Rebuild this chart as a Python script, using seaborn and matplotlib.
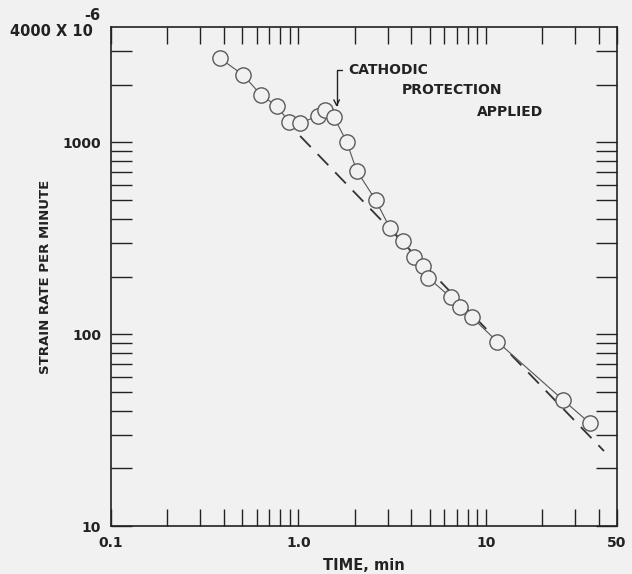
import matplotlib
matplotlib.use("Agg")
import matplotlib.pyplot as plt
from matplotlib.ticker import FixedLocator, NullFormatter, FixedFormatter
import seaborn as sns
import pandas as pd

# ---- data ----
time_min = [0.381, 0.508, 0.631, 0.765, 0.890, 1.018, 1.266, 1.384, 1.547,
            1.807, 2.044, 2.58, 3.076, 3.595, 4.146, 4.63, 4.92, 6.48,
            7.27, 8.39, 11.49, 25.8, 35.9]
strain_rate = [2747, 2247, 1768, 1549, 1283, 1259, 1374, 1477, 1353,
               1009, 712, 501, 357, 307, 254, 227, 197, 156,
               138, 123, 91.5, 45.4, 34.3]
trend_x = [1.02, 42.6]
trend_y = [1081, 24.6]

x_major = [0.1, 1.0, 10, 50]
x_major_labels = ["0.1", "1.0", "10", "50"]
x_minor = [0.2, 0.3, 0.4, 0.5, 0.6, 0.7, 0.8, 0.9,
           2, 3, 4, 5, 6, 7, 8, 9, 20, 30, 40]
y_major = [10, 100, 1000]
y_major_labels = ["10", "100", "1000"]
y_minor = [20, 30, 40, 50, 60, 70, 80, 90,
           200, 300, 400, 500, 600, 700, 800, 900, 2000, 3000]

bg = "#f1f1f1"
ink = "#222222"

sns.set_style("ticks")
plt.rcParams["font.family"] = ["DejaVu Sans"]
plt.rcParams["font.weight"] = "bold"

fig = plt.figure(figsize=(6.32, 5.74), dpi=100, facecolor=bg)
ax = fig.add_axes([111 / 632, 48 / 574, 506 / 632, 499 / 574])
ax.set_facecolor(bg)
ax.set_xscale("log")
ax.set_yscale("log")

df = pd.DataFrame({"t": time_min, "s": strain_rate})
dtrend = pd.DataFrame({"t": trend_x, "s": trend_y})

sns.lineplot(data=dtrend, x="t", y="s", ax=ax, color="#333333",
             linewidth=1.3, dashes=False, estimator=None, zorder=2)
ax.lines[-1].set_dashes([8.5, 5.5])

sns.lineplot(data=df, x="t", y="s", ax=ax, color="#555555", linewidth=0.8,
             marker="o", markersize=11, markerfacecolor=bg,
             markeredgecolor="#5a5a5a", markeredgewidth=1.0,
             estimator=None, sort=False, zorder=3)

ax.set_xlim(0.1, 50)
ax.set_ylim(10, 4000)

ax.xaxis.set_major_locator(FixedLocator(x_major))
ax.xaxis.set_major_formatter(FixedFormatter(x_major_labels))
ax.xaxis.set_minor_locator(FixedLocator(x_minor))
ax.xaxis.set_minor_formatter(NullFormatter())
ax.yaxis.set_major_locator(FixedLocator(y_major))
ax.yaxis.set_major_formatter(FixedFormatter(y_major_labels))
ax.yaxis.set_minor_locator(FixedLocator(y_minor))
ax.yaxis.set_minor_formatter(NullFormatter())

ax.tick_params(axis="x", which="both", direction="in", top=True, bottom=True,
               length=12, width=1.0, color=ink, labelsize=10, pad=7,
               labelcolor=ink)
ax.tick_params(axis="y", which="both", direction="in", left=True, right=True,
               length=15, width=1.0, color=ink, labelsize=10, pad=7,
               labelcolor=ink)
for lab in ax.get_xticklabels() + ax.get_yticklabels():
    lab.set_fontweight("bold")

for sp in ax.spines.values():
    sp.set_color(ink)
    sp.set_linewidth(1.2)

ax.set_xlabel("TIME, min", fontsize=10.5, fontweight="bold", color=ink,
              labelpad=6)
ax.set_ylabel("STRAIN RATE PER MINUTE", fontsize=9.5, fontweight="bold",
              color=ink, labelpad=8)

# top-left label "4000 X10^-6"
fig.text(10 / 632, 1 - 31 / 574, "4000 X 10", fontsize=10.5,
         fontweight="bold", color=ink, va="center", ha="left")
fig.text(84 / 632, 1 - 15 / 574, "-6", fontsize=10.5,
         fontweight="bold", color=ink, va="center", ha="left")

# annotation
ax.annotate("CATHODIC", xy=(1.598, 1531), xycoords="data",
            xytext=(0.468, 0.914), textcoords="axes fraction",
            fontsize=10, fontweight="bold", color=ink, va="center", ha="left",
            arrowprops=dict(arrowstyle="->", color=ink, lw=1.0,
                            connectionstyle="angle,angleA=0,angleB=90,rad=0",
                            relpos=(0, 0.5), shrinkA=2, shrinkB=0))
ax.text(0.575, 0.874, "PROTECTION", transform=ax.transAxes, fontsize=10,
        fontweight="bold", color=ink, va="center", ha="left")
ax.text(0.723, 0.830, "APPLIED", transform=ax.transAxes, fontsize=10,
        fontweight="bold", color=ink, va="center", ha="left")

fig.savefig("out.png", dpi=100, facecolor=bg)
